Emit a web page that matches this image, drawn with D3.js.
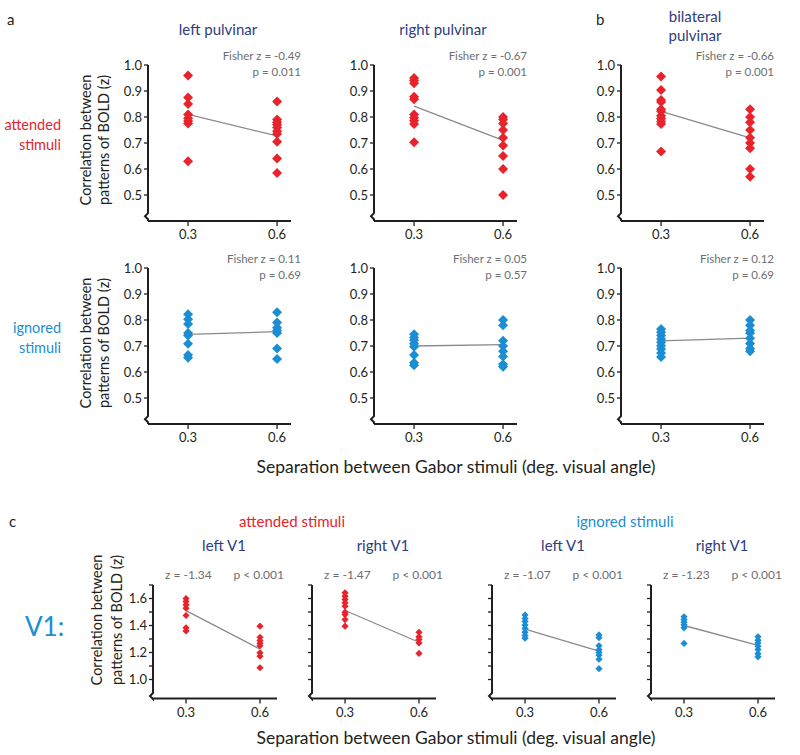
<!DOCTYPE html>
<html><head><meta charset="utf-8">
<script src="https://cdn.jsdelivr.net/npm/d3@7"></script>
<style>
body{margin:0;background:#fff;}
svg{font-family:Lato,"Open Sans",sans-serif;}
</style></head>
<body>
<svg id="chart" width="800" height="755"></svg>
<script>
// ---------- DATA ----------
const separations = [0.3, 0.6];
const xTickLabels = ["0.3", "0.6"];
const pulvTicks = [0.5, 0.6, 0.7, 0.8, 0.9, 1.0];
const v1Ticks = [1.0, 1.1, 1.2, 1.3, 1.4, 1.5, 1.6, 1.7];
const v1TickLabels = [1.0, 1.2, 1.4, 1.6];

const pulvRegions = ["left pulvinar", "right pulvinar", "bilateral pulvinar"];

// attended, pulvinar
const leftPulvAtt03 = [0.96, 0.875, 0.85, 0.81, 0.795, 0.785, 0.775, 0.63];
const leftPulvAtt06 = [0.86, 0.79, 0.78, 0.77, 0.76, 0.745, 0.735, 0.705, 0.64, 0.585];
const rightPulvAtt03 = [0.95, 0.94, 0.93, 0.878, 0.868, 0.81, 0.797, 0.786, 0.773, 0.703];
const rightPulvAtt06 = [0.80, 0.79, 0.775, 0.75, 0.72, 0.69, 0.65, 0.60, 0.50];
const bilatAtt03 = [0.956, 0.904, 0.865, 0.858, 0.83, 0.822, 0.805, 0.794, 0.783, 0.773, 0.667];
const bilatAtt06 = [0.83, 0.80, 0.78, 0.75, 0.72, 0.70, 0.68, 0.60, 0.57];
const pulvAttMeans = [[0.81, 0.727], [0.842, 0.71], [0.822, 0.72]];
const pulvAttStats = [["Fisher z = -0.49", "p = 0.011"], ["Fisher z = -0.67", "p = 0.001"], ["Fisher z = -0.66", "p = 0.001"]];

// ignored, pulvinar
const leftPulvIgn03 = [0.822, 0.803, 0.785, 0.75, 0.74, 0.709, 0.665, 0.655];
const leftPulvIgn06 = [0.83, 0.79, 0.77, 0.76, 0.75, 0.69, 0.65];
const rightPulvIgn03 = [0.745, 0.733, 0.722, 0.709, 0.697, 0.665, 0.636, 0.626];
const rightPulvIgn06 = [0.80, 0.78, 0.72, 0.70, 0.68, 0.66, 0.63, 0.62];
const bilatIgn03 = [0.765, 0.753, 0.74, 0.727, 0.714, 0.701, 0.688, 0.673, 0.658];
const bilatIgn06 = [0.80, 0.78, 0.76, 0.75, 0.73, 0.71, 0.69, 0.68];
const pulvIgnMeans = [[0.745, 0.755], [0.70, 0.705], [0.72, 0.73]];
const pulvIgnStats = [["Fisher z = 0.11", "p = 0.69"], ["Fisher z = 0.05", "p = 0.57"], ["Fisher z = 0.12", "p = 0.69"]];

// V1
const v1Regions = ["left V1", "right V1", "left V1", "right V1"];
const v1AttLeft03 = [1.60, 1.578, 1.553, 1.528, 1.474, 1.383, 1.36];
const v1AttLeft06 = [1.395, 1.313, 1.289, 1.269, 1.25, 1.198, 1.173, 1.087];
const v1AttRight03 = [1.642, 1.617, 1.593, 1.568, 1.543, 1.499, 1.481, 1.444, 1.395];
const v1AttRight06 = [1.35, 1.316, 1.296, 1.271, 1.193];
const v1IgnLeft03 = [1.477, 1.452, 1.43, 1.403, 1.378, 1.35, 1.326, 1.306];
const v1IgnLeft06 = [1.33, 1.31, 1.25, 1.22, 1.20, 1.18, 1.15, 1.08];
const v1IgnRight03 = [1.464, 1.444, 1.424, 1.405, 1.383, 1.267];
const v1IgnRight06 = [1.316, 1.291, 1.271, 1.247, 1.222, 1.19, 1.168];
const v1Means = [[1.51, 1.225], [1.511, 1.276], [1.373, 1.21], [1.40, 1.252]];
const v1Stats = [["z = -1.34", "p < 0.001"], ["z = -1.47", "p < 0.001"], ["z = -1.07", "p < 0.001"], ["z = -1.23", "p < 0.001"]];

// ---------- STYLE ----------
const RED = "#e8232b", BLUE = "#1b8dd3", NAVY = "#2e3d80", GRAY = "#6d6e71", LINE = "#8a8a8a", INK = "#231f20";
const svg = d3.select("#chart");

function diamond(r) { return `M0,${-r}L${r},0L0,${r}L${-r},0Z`; }

function panel(opts) {
  const g = svg.append("g").attr("transform", `translate(${opts.x},${opts.y})`);
  const x = d3.scaleLinear().domain(opts.xDomain).range([0, opts.w]);
  const y = d3.scaleLinear().domain(opts.yDomain).range([opts.h, 0]);
  const top = y(opts.yTop), breakY = y(opts.yBreak);
  g.append("path").attr("d", `M0,${top}V${breakY}l-3,3l3,3V${opts.h}`).attr("fill", "none").attr("stroke", INK).attr("stroke-width", 2);
  g.selectAll(".yt").data(opts.yTicks).join("line")
    .attr("x1", -4).attr("x2", 0).attr("y1", d => y(d)).attr("y2", d => y(d))
    .attr("stroke", INK).attr("stroke-width", 1.3);
  if (opts.yLabels) {
    g.selectAll(".yl").data(opts.yLabels).join("text")
      .attr("x", -6).attr("y", d => y(d)).attr("dy", "0.35em").attr("text-anchor", "end")
      .attr("font-size", opts.tickFont).attr("fill", INK).text(d => d.toFixed(1));
  }
  g.append("line").attr("x1", 0).attr("x2", opts.w).attr("y1", opts.h).attr("y2", opts.h).attr("stroke", INK).attr("stroke-width", 2);
  g.selectAll(".xt").data(separations).join("line")
    .attr("x1", d => x(d)).attr("x2", d => x(d)).attr("y1", opts.h).attr("y2", opts.h + 5)
    .attr("stroke", INK).attr("stroke-width", 1.3);
  g.selectAll(".xl").data(separations).join("text")
    .attr("x", d => x(d)).attr("y", opts.h + opts.xLabOff).attr("text-anchor", "middle")
    .attr("font-size", opts.tickFont).attr("fill", INK).text((d, i) => xTickLabels[i]);
  g.append("line")
    .attr("x1", x(separations[0])).attr("y1", y(opts.means[0]))
    .attr("x2", x(separations[1])).attr("y2", y(opts.means[1]))
    .attr("stroke", LINE).attr("stroke-width", 1.3);
  opts.points.forEach((arr, i) => {
    g.selectAll(null).data(arr).join("path")
      .attr("d", diamond(opts.r))
      .attr("transform", d => `translate(${x(separations[i])},${y(d)})`)
      .attr("fill", opts.color);
  });
  if (opts.statsRight) {
    g.append("text").attr("x", opts.statsX1).attr("y", opts.statsY).attr("text-anchor", "end")
      .attr("font-size", opts.statFont).attr("fill", GRAY).text(opts.stats[0]);
    g.append("text").attr("x", opts.statsX1).attr("y", opts.statsY + 16).attr("text-anchor", "end")
      .attr("font-size", opts.statFont).attr("fill", GRAY).text(opts.stats[1]);
  } else {
    g.append("text").attr("x", opts.statsX0).attr("y", opts.statsY).attr("text-anchor", "start")
      .attr("font-size", opts.statFont).attr("fill", GRAY).text(opts.stats[0]);
    g.append("text").attr("x", opts.statsX1).attr("y", opts.statsY).attr("text-anchor", "end")
      .attr("font-size", opts.statFont).attr("fill", GRAY).text(opts.stats[1]);
  }
  return g;
}

// ---------- PULVINAR PANELS ----------
const pulvLeft = [148, 374, 621];
const pulvAttPts = [[leftPulvAtt03, leftPulvAtt06], [rightPulvAtt03, rightPulvAtt06], [bilatAtt03, bilatAtt06]];
const pulvIgnPts = [[leftPulvIgn03, leftPulvIgn06], [rightPulvIgn03, rightPulvIgn06], [bilatIgn03, bilatIgn06]];
[[65, pulvAttPts, pulvAttMeans, pulvAttStats, RED], [268, pulvIgnPts, pulvIgnMeans, pulvIgnStats, BLUE]].forEach(row => {
  pulvLeft.forEach((lx, i) => {
    panel({
      x: lx, y: row[0], w: 143, h: 156,
      xDomain: [0.165, 0.647], yDomain: [0.4, 1.0], yTop: 1.0, yBreak: 0.43,
      yTicks: pulvTicks, yLabels: pulvTicks, tickFont: 13, xLabOff: 18,
      means: row[2][i], points: row[1][i], color: row[4], r: 5,
      stats: row[3][i], statsRight: true, statsX1: 153, statsY: -5, statFont: 11.5
    });
  });
});

const TF = 15;
svg.append("text").attr("x", 218).attr("y", 35).attr("text-anchor", "middle").attr("font-size", TF).attr("fill", NAVY).text(pulvRegions[0]);
svg.append("text").attr("x", 443).attr("y", 35).attr("text-anchor", "middle").attr("font-size", TF).attr("fill", NAVY).text(pulvRegions[1]);
svg.append("text").attr("x", 695).attr("y", 22).attr("text-anchor", "middle").attr("font-size", TF).attr("fill", NAVY).text(pulvRegions[2].split(" ")[0]);
svg.append("text").attr("x", 695).attr("y", 41).attr("text-anchor", "middle").attr("font-size", TF).attr("fill", NAVY).text(pulvRegions[2].split(" ")[1]);
svg.append("text").attr("x", 7).attr("y", 25).attr("font-size", 15).attr("fill", INK).text("a");
svg.append("text").attr("x", 596).attr("y", 25).attr("font-size", 15).attr("fill", INK).text("b");

[["attended", "stimuli", RED, 130], ["ignored", "stimuli", BLUE, 333]].forEach(r => {
  svg.append("text").attr("x", 61).attr("y", r[3]).attr("text-anchor", "end").attr("font-size", 14.5).attr("fill", r[2]).text(r[0]);
  svg.append("text").attr("x", 61).attr("y", r[3] + 20).attr("text-anchor", "end").attr("font-size", 14.5).attr("fill", r[2]).text(r[1]);
});

function yTitle(cx, cy, gap) {
  const t = svg.append("text").attr("transform", `translate(${cx},${cy}) rotate(-90)`).attr("text-anchor", "middle").attr("font-size", 14.5).attr("fill", INK);
  t.append("tspan").attr("x", 0).attr("dy", 0).text("Correlation between");
  t.append("tspan").attr("x", 0).attr("dy", gap).text("patterns of BOLD (z)");
}
yTitle(91, 140, 18);
yTitle(91, 343, 18);
yTitle(102, 620, 20);

svg.append("text").attr("x", 456).attr("y", 473).attr("text-anchor", "middle").attr("font-size", 17.5).attr("fill", INK).text("Separation between Gabor stimuli (deg. visual angle)");

// ---------- V1 PANELS ----------
svg.append("text").attr("x", 9).attr("y", 527).attr("font-size", 15).attr("fill", INK).text("c");
svg.append("text").attr("x", 292).attr("y", 527).attr("text-anchor", "middle").attr("font-size", TF).attr("fill", RED).text("attended stimuli");
svg.append("text").attr("x", 625).attr("y", 527).attr("text-anchor", "middle").attr("font-size", TF).attr("fill", BLUE).text("ignored stimuli");
svg.append("text").attr("x", 25).attr("y", 636).attr("font-size", 26).attr("fill", BLUE).text("V1:");

const v1Left = [153, 312, 492, 651];
const v1Pts = [[v1AttLeft03, v1AttLeft06], [v1AttRight03, v1AttRight06], [v1IgnLeft03, v1IgnLeft06], [v1IgnRight03, v1IgnRight06]];
const v1Colors = [RED, RED, BLUE, BLUE];
v1Left.forEach((lx, i) => {
  svg.append("text").attr("x", lx + 71).attr("y", 551).attr("text-anchor", "middle").attr("font-size", TF).attr("fill", NAVY).text(v1Regions[i]);
  panel({
    x: lx, y: 585, w: 124, h: 113.4,
    xDomain: [0.166, 0.669], yDomain: [0.86, 1.7], yTop: 1.7, yBreak: 0.9,
    yTicks: v1Ticks, yLabels: i === 0 ? v1TickLabels : null, tickFont: 13, xLabOff: 19,
    means: v1Means[i], points: v1Pts[i], color: v1Colors[i], r: 3.6,
    stats: v1Stats[i], statsRight: false, statsX0: 12, statsX1: 131, statsY: -6, statFont: 12
  });
});

svg.append("text").attr("x", 456).attr("y", 744).attr("text-anchor", "middle").attr("font-size", 17.5).attr("fill", INK).text("Separation between Gabor stimuli (deg. visual angle)");
</script>
</body></html>
